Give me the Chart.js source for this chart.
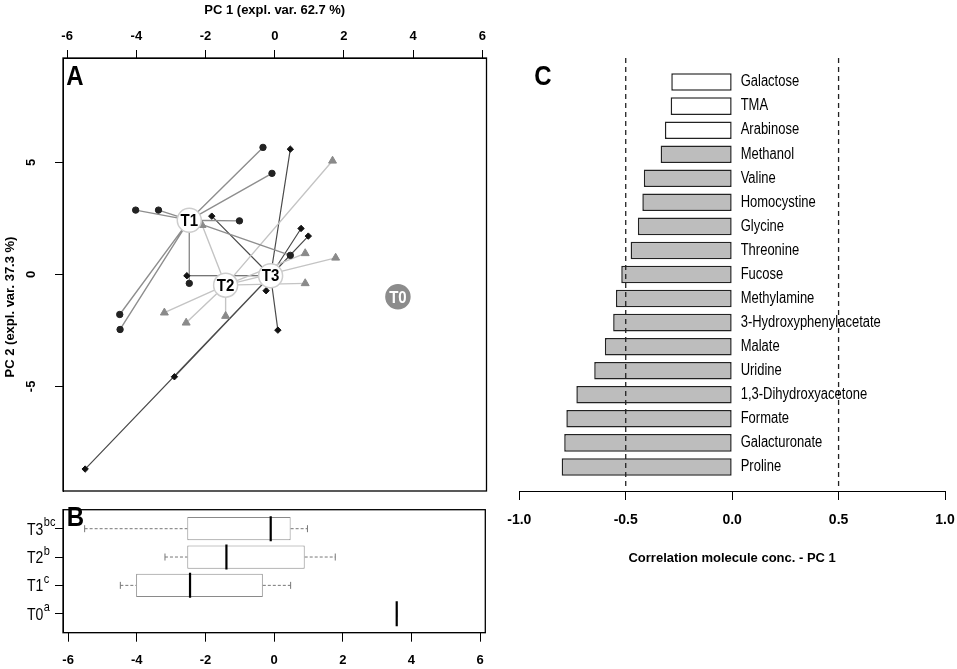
<!DOCTYPE html>
<html>
<head>
<meta charset="utf-8">
<script src="https://cdn.jsdelivr.net/npm/chart.js@4.4.1/dist/chart.umd.min.js"></script>
<style>
  html, body { margin: 0; padding: 0; background: #fff; overflow: hidden; }
  #wrap { position: relative; width: 957px; height: 669px; }
  canvas { position: absolute; }
</style>
</head>
<body>
<div id="wrap">
  <canvas id="pca" width="500" height="530" style="left:0;top:0"></canvas>
  <canvas id="box" width="500" height="174" style="left:0;top:495px"></canvas>
  <canvas id="corr" width="490" height="669" style="left:490px;top:0"></canvas>
</div>
<script>
// ---- panel A: PCA scores, star plot per group ----
const groups = ['T0', 'T1', 'T2', 'T3'];
const centerX = [3.56, -2.47, -1.42, -0.12];
const centerY = [-1.00, 2.42, -0.48, -0.06];

const t1X = [-0.34, -0.08, -4.02, -3.36, -1.02, 0.45, -2.47, -4.48, -4.47];
const t1Y = [5.67, 4.51, 2.87, 2.87, 2.39, 0.85, -0.40, -1.79, -2.46];
const t2X = [1.67, -2.10, 0.88, 1.76, 0.88, -3.19, -2.56, -1.42];
const t2Y = [5.07, 2.20, 0.94, 0.74, -0.40, -1.71, -2.16, -1.86];
const t3X = [0.45, -1.82, 0.76, 0.97, -2.54, -0.25, 0.09, -2.90, -5.48];
const t3Y = [5.59, 2.60, 2.05, 1.71, -0.06, -0.73, -2.49, -4.57, -8.69];

const pc1Ticks = [-6, -4, -2, 0, 2, 4, 6];
const pc2Ticks = [-5, 0, 5];

// ---- panel B: PC1 distribution per group ----
const boxGroups = ['T0', 'T1', 'T2', 'T3'];
const boxLetters = ['a', 'c', 'b', 'bc'];
const boxPos = [1, 2, 3, 4];
const boxMin = [3.57, -4.48, -3.18, -5.52];
const boxQ1 = [3.57, -4.02, -2.53, -2.53];
const boxMedian = [3.57, -2.45, -1.39, -0.10];
const boxQ3 = [3.57, -0.33, 0.89, 0.48];
const boxMax = [3.57, 0.48, 1.78, 0.97];

// ---- panel C: correlation with PC1 ----
const molecules = ['Galactose', 'TMA', 'Arabinose', 'Methanol', 'Valine', 'Homocystine',
  'Glycine', 'Threonine', 'Fucose', 'Methylamine', '3-Hydroxyphenylacetate', 'Malate',
  'Uridine', '1,3-Dihydroxyacetone', 'Formate', 'Galacturonate', 'Proline'];
const correlation = [-0.286, -0.289, -0.316, -0.336, -0.415, -0.422, -0.443, -0.477, -0.521,
  -0.546, -0.559, -0.598, -0.648, -0.732, -0.779, -0.789, -0.801];
const significant = [false, false, false, true, true, true, true, true, true,
  true, true, true, true, true, true, true, true];
const corrTicks = [-1, -0.5, 0, 0.5, 1];
const cutoffs = [-0.5, 0.5];

const FONT = "'Liberation Sans', Arial, Helvetica, sans-serif";
Chart.defaults.font.family = FONT;
Chart.defaults.color = '#000';
Chart.defaults.animation = false;
Chart.defaults.events = [];
Chart.defaults.plugins.legend.display = false;
Chart.defaults.plugins.tooltip.enabled = false;

const tickFont = { size: 13, weight: 'bold' };
const gap = { x: null, y: null };
const xy = (xs, ys) => xs.map((x, i) => ({ x, y: ys[i] }));
const fixedTicks = values => scale => { scale.ticks = values.map(value => ({ value })); };
const tickGrid = len => ({ drawOnChartArea: false, color: '#000', tickLength: len, offset: false });

function spokes(g, xs, ys) {
  return xs.flatMap((x, i) => [{ x: centerX[g], y: centerY[g] }, { x, y: ys[i] }, gap]);
}

function tallText(ctx, text, x, y, sy) {
  ctx.save();
  ctx.translate(x, y);
  ctx.scale(1, sy);
  ctx.fillText(text, 0, 0);
  ctx.restore();
}

function frame(chart) {
  const { ctx, chartArea: a } = chart;
  ctx.save();
  ctx.strokeStyle = '#000';
  ctx.lineWidth = 1.3;
  ctx.strokeRect(a.left, a.top, a.right - a.left, a.bottom - a.top);
  ctx.restore();
}

function panelLetter(ctx, letter, x, y) {
  ctx.save();
  ctx.fillStyle = '#000';
  ctx.font = `bold 24px ${FONT}`;
  ctx.textAlign = 'center';
  ctx.textBaseline = 'middle';
  tallText(ctx, letter, x, y, 1.15);
  ctx.restore();
}

// ---------- A ----------
new Chart(document.getElementById('pca'), {
  type: 'scatter',
  data: {
    datasets: [
      { label: 'centroids', data: xy(centerX, centerY), pointRadius: 12,
        pointBackgroundColor: ['#8c8c8c', '#fff', '#fff', '#fff'],
        pointBorderColor: ['#8c8c8c', '#cdcdcd', '#cdcdcd', '#cdcdcd'],
        pointBorderWidth: 1.5, order: 0 },
      { label: 'T1', data: xy(t1X, t1Y), pointStyle: 'circle', pointRadius: 3.2,
        backgroundColor: '#222', borderColor: '#222', order: 1 },
      { label: 'T2', data: xy(t2X, t2Y), pointStyle: 'triangle', pointRadius: 4.6,
        backgroundColor: '#8a8a8a', borderColor: '#8a8a8a', order: 1 },
      { label: 'T3', data: xy(t3X, t3Y), pointStyle: 'rectRot', pointRadius: 3.2,
        backgroundColor: '#111', borderColor: '#111', order: 1 },
      { type: 'line', data: spokes(1, t1X, t1Y), borderColor: '#8e8e8e', borderWidth: 1.4,
        pointRadius: 0, order: 2 },
      { type: 'line', data: spokes(2, t2X, t2Y), borderColor: '#c4c4c4', borderWidth: 1.4,
        pointRadius: 0, order: 2 },
      { type: 'line', data: spokes(3, t3X, t3Y), borderColor: '#4a4a4a', borderWidth: 1.2,
        pointRadius: 0, order: 2 }
    ]
  },
  options: {
    responsive: false,
    layout: { padding: { left: 0, top: 0, right: 11, bottom: 39 } },
    scales: {
      x: {
        type: 'linear', position: 'top', min: -6.12, max: 6.12,
        afterBuildTicks: fixedTicks(pc1Ticks),
        afterFit: s => { s.height = 58; },
        grid: tickGrid(8), border: { color: '#000' },
        ticks: { font: tickFont, padding: 5.5 },
        title: { display: true, text: 'PC 1 (expl. var. 62.7 %)', font: tickFont,
          padding: { top: 3, bottom: 0 } }
      },
      y: {
        type: 'linear', min: -9.67, max: 9.66,
        afterBuildTicks: fixedTicks(pc2Ticks),
        afterFit: s => { s.width = 63; },
        grid: tickGrid(8), border: { color: '#000' },
        ticks: { font: tickFont, minRotation: 90, maxRotation: 90, crossAlign: 'center', padding: 18 }
      }
    }
  },
  plugins: [{
    id: 'pcaDecor',
    afterDatasetsDraw(chart) {
      const { ctx } = chart;
      const meta = chart.getDatasetMeta(0);
      ctx.save();
      ctx.font = `bold 15px ${FONT}`;
      ctx.textAlign = 'center';
      ctx.textBaseline = 'middle';
      meta.data.forEach((pt, i) => {
        ctx.fillStyle = i === 0 ? '#fff' : '#000';
        tallText(ctx, groups[i], pt.x, pt.y + 1, 1.15);
      });
      ctx.restore();
    },
    afterDraw(chart) {
      const { ctx } = chart;
      frame(chart);
      panelLetter(ctx, 'A', 75, 77);
      ctx.save();
      ctx.fillStyle = '#000';
      ctx.font = `bold 13px ${FONT}`;
      ctx.textAlign = 'center';
      ctx.textBaseline = 'middle';
      ctx.translate(10, 307);
      ctx.rotate(-Math.PI / 2);
      ctx.fillText('PC 2 (expl. var. 37.3 %)', 0, 0);
      ctx.restore();
    }
  }]
});

// ---------- B ----------
const whiskers = boxPos.flatMap((y, i) => [
  { x: boxMin[i], y }, { x: boxQ1[i], y }, gap,
  { x: boxQ3[i], y }, { x: boxMax[i], y }, gap
]);

new Chart(document.getElementById('box'), {
  type: 'bar',
  data: {
    datasets: [
      { label: 'median', type: 'line', data: xy(boxMedian, boxPos), showLine: false,
        pointStyle: 'line', pointRotation: 90, pointRadius: 12.5,
        borderColor: '#000', pointBorderColor: '#000', pointBorderWidth: 2.2, order: 0 },
      { label: 'caps', type: 'line', data: [...xy(boxMin, boxPos), ...xy(boxMax, boxPos)],
        showLine: false, pointStyle: 'line', pointRotation: 90, pointRadius: 3.5,
        borderColor: '#777', pointBorderColor: '#777', pointBorderWidth: 1, order: 1 },
      { label: 'whiskers', type: 'line', data: whiskers, borderColor: '#777', borderWidth: 1,
        borderDash: [3, 2], pointRadius: 0, order: 2 },
      { label: 'box', data: boxPos.map((y, i) => ({ x: [boxQ1[i], boxQ3[i]], y })),
        backgroundColor: '#fff', borderColor: '#8a8a8a', borderWidth: 1, borderSkipped: false,
        barPercentage: 0.82, categoryPercentage: 1, order: 3 }
    ]
  },
  options: {
    responsive: false,
    indexAxis: 'y',
    layout: { padding: { left: 0, top: 3.3, right: 11, bottom: 0 } },
    scales: {
      x: {
        type: 'linear', min: -6.15, max: 6.15,
        afterBuildTicks: fixedTicks(pc1Ticks),
        afterFit: s => { s.height = 36.3; },
        grid: tickGrid(9), border: { color: '#000' },
        ticks: { font: tickFont, padding: 11 }
      },
      y: {
        type: 'linear', min: 0.33, max: 4.67, offset: false,
        afterBuildTicks: fixedTicks(boxPos),
        afterFit: s => { s.width = 63; },
        grid: tickGrid(8), border: { color: '#000' },
        ticks: { display: false }
      }
    }
  },
  plugins: [{
    id: 'boxDecor',
    afterDraw(chart) {
      const { ctx, scales } = chart;
      frame(chart);
      ctx.save();
      ctx.fillStyle = '#000';
      ctx.textAlign = 'left';
      ctx.textBaseline = 'alphabetic';
      boxGroups.forEach((g, i) => {
        const y = scales.y.getPixelForValue(boxPos[i]);
        ctx.font = `14px ${FONT}`;
        tallText(ctx, g, 27, y + 6, 1.2);
        const w = ctx.measureText(g).width;
        ctx.font = `11px ${FONT}`;
        tallText(ctx, boxLetters[i], 27 + w + 0.5, y - 2.5, 1.2);
      });
      ctx.restore();
      panelLetter(ctx, 'B', 75.5, 23);
    }
  }]
});

// ---------- C ----------
const cutoffLines = cutoffs.flatMap(c => [{ x: c, y: 0 }, { x: c, y: 17.83 }, gap]);

new Chart(document.getElementById('corr'), {
  type: 'bar',
  data: {
    datasets: [
      { label: 'cutoff', type: 'line', data: cutoffLines, borderColor: '#222', borderWidth: 1.3,
        borderDash: [5, 4], pointRadius: 0, order: 0 },
      { label: 'correlation', data: correlation.map((v, i) => ({ x: v, y: i + 1 })),
        backgroundColor: ctx => significant[ctx.dataIndex] ? '#bdbdbd' : '#fff',
        borderColor: '#222', borderWidth: 1.5, borderSkipped: false,
        barPercentage: 0.73, categoryPercentage: 1, order: 1 }
    ]
  },
  options: {
    responsive: false,
    indexAxis: 'y',
    layout: { padding: { left: 29.3, top: 58, right: 35, bottom: 98 } },
    scales: {
      x: {
        type: 'linear', min: -1, max: 1,
        afterBuildTicks: fixedTicks(corrTicks),
        afterFit: s => { s.height = 80; },
        grid: tickGrid(9), border: { color: '#000' },
        ticks: { font: { size: 14, weight: 'bold' }, padding: 11.6, callback: v => v.toFixed(1) },
        title: { display: true, text: 'Correlation molecule conc. - PC 1', font: tickFont,
          padding: { top: 0, bottom: 5.2 } }
      },
      y: { type: 'linear', reverse: true, min: 0, max: 18, offset: false, display: false }
    }
  },
  plugins: [{
    id: 'corrDecor',
    afterDatasetsDraw(chart) {
      const { ctx, scales } = chart;
      const meta = chart.getDatasetMeta(1);
      const x0 = scales.x.getPixelForValue(0) + 8.5;
      ctx.save();
      ctx.fillStyle = '#000';
      ctx.font = `13px ${FONT}`;
      ctx.textAlign = 'left';
      ctx.textBaseline = 'middle';
      meta.data.forEach((bar, i) => tallText(ctx, molecules[i], x0, bar.y, 1.2));
      ctx.restore();
    },
    afterDraw(chart) {
      panelLetter(chart.ctx, 'C', 53, 77);
    }
  }]
});
</script>
</body>
</html>
